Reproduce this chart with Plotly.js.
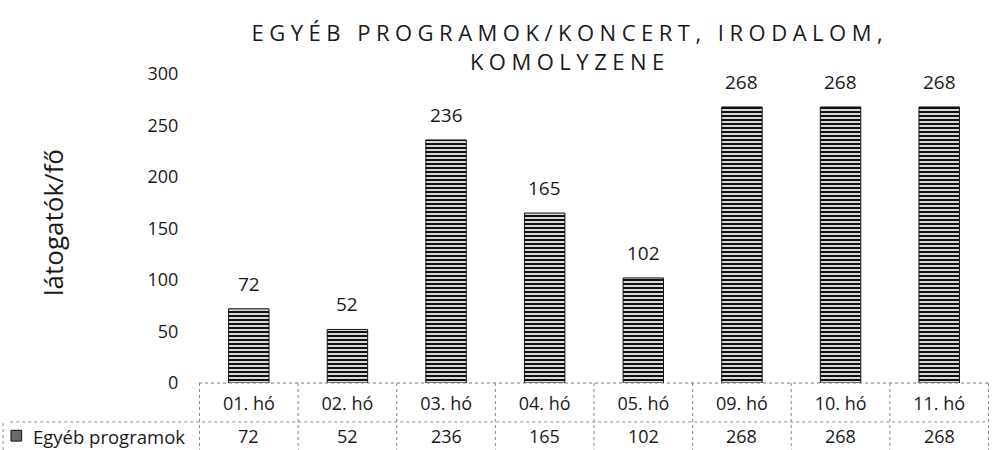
<!DOCTYPE html>
<html>
<head>
<meta charset="utf-8">
<script src="https://cdn.plot.ly/plotly-3.0.1.min.js"></script>
<style>
html,body{margin:0;padding:0;background:#fff;}
#chart{width:1002px;height:450px;}
</style>
</head>
<body>
<div id="chart"></div>
<script>
var categories = ["01. hó","02. hó","03. hó","04. hó","05. hó","09. hó","10. hó","11. hó"];
var seriesName = "Egyéb programok";
var values = [72, 52, 236, 165, 102, 268, 268, 268];
var yTicks = [0, 50, 100, 150, 200, 250, 300];
var chartTitle = "EGYÉB PROGRAMOK/KONCERT, IRODALOM,<br>KOMOLYZENE";
var yTitle = "látogatók/fő";

var FONT = "'Open Sans', sans-serif";
var TXT = "#1a1a1a";

var trace = {
  type: "bar",
  x: categories,
  y: values,
  name: seriesName,
  marker: {
    color: "#8a8a8a",
    line: {color: "#111", width: 1},
    pattern: {shape: "-", fgcolor: "#111", bgcolor: "#d8d8d8", size: 4, solidity: 0.5}
  },
  hoverinfo: "none",
  showlegend: false
};

var annotations = [];
// title
annotations.push({
  x: (570 - 199) / 790, xref: "paper", y: 1, yref: "paper",
  text: chartTitle, showarrow: false,
  font: {family: FONT, size: 22, color: TXT},
  xanchor: "center", yanchor: "bottom", align: "center", yshift: -4
});
// data labels above bars
categories.forEach(function(c, i){
  annotations.push({
    x: c, xref: "x", y: values[i], yref: "y",
    text: String(values[i]), showarrow: false,
    font: {family: FONT, size: 19, color: TXT},
    xanchor: "center", yanchor: "bottom", yshift: 10
  });
});
// data table values row
categories.forEach(function(c, i){
  annotations.push({
    x: c, xref: "x", y: -0.172, yref: "paper",
    text: String(values[i]), showarrow: false,
    font: {family: FONT, size: 18, color: TXT},
    xanchor: "center", yanchor: "middle"
  });
});
// legend key text in table
annotations.push({
  x: -0.2125, xref: "paper", y: -0.172, yref: "paper",
  text: seriesName, showarrow: false,
  font: {family: FONT, size: 18.5, color: TXT},
  xanchor: "left", yanchor: "middle"
});
// y-axis title
annotations.push({
  x: -0.184, xref: "paper", y: 0.52, yref: "paper",
  text: yTitle, textangle: -90, showarrow: false,
  font: {family: FONT, size: 26, color: TXT},
  xanchor: "center", yanchor: "middle"
});

var shapes = [];
var dotLine = {color: "#8a8a8a", width: 1, dash: "dot"};
// axis baseline
shapes.push({type: "line", xref: "paper", yref: "paper", x0: 0, x1: 1, y0: 0, y1: 0, line: {color: "#777", width: 1, dash: "dot"}});
// table horizontal separator
shapes.push({type: "line", xref: "paper", yref: "paper", x0: -0.239, x1: 1, y0: -0.126, y1: -0.126, line: dotLine});
// table vertical separators
for (var k = 0; k <= categories.length; k++) {
  shapes.push({type: "line", xref: "x", yref: "paper", x0: k - 0.5, x1: k - 0.5, y0: 0, y1: -0.217, line: dotLine});
}
shapes.push({type: "line", xref: "paper", yref: "paper", x0: -0.248, x1: -0.248, y0: -0.13, y1: -0.217, line: dotLine});
// legend key swatch
shapes.push({type: "rect", xref: "paper", yref: "paper", x0: -0.238, x1: -0.2245, y0: -0.153, y1: -0.188,
  fillcolor: "#6a6a6a", line: {color: "#111", width: 1}});

var layout = {
  width: 1002, height: 450,
  margin: {l: 199, r: 13, t: 74, b: 67},
  paper_bgcolor: "#fff", plot_bgcolor: "#fff",
  bargap: 0.59,
  xaxis: {
    type: "category",
    showgrid: false, zeroline: false, showline: false,
    ticks: "", tickfont: {family: FONT, size: 18, color: TXT},
    ticklabelstandoff: 8
  },
  yaxis: {
    range: [0, 300],
    tickvals: yTicks,
    showgrid: false, zeroline: false, showline: false,
    ticks: "outside", ticklen: 16, tickcolor: "rgba(0,0,0,0)",
    tickfont: {family: FONT, size: 18, color: TXT}
  },
  annotations: annotations,
  shapes: shapes,
  showlegend: false
};

Plotly.newPlot("chart", [trace], layout, {staticPlot: true, displayModeBar: false}).then(function(){
  document.querySelectorAll(".annotation-text").forEach(function(t){
    if (t.textContent.indexOf("EGY") === 0) { t.style.letterSpacing = "5.5px"; }
  });
});
</script>
</body>
</html>
